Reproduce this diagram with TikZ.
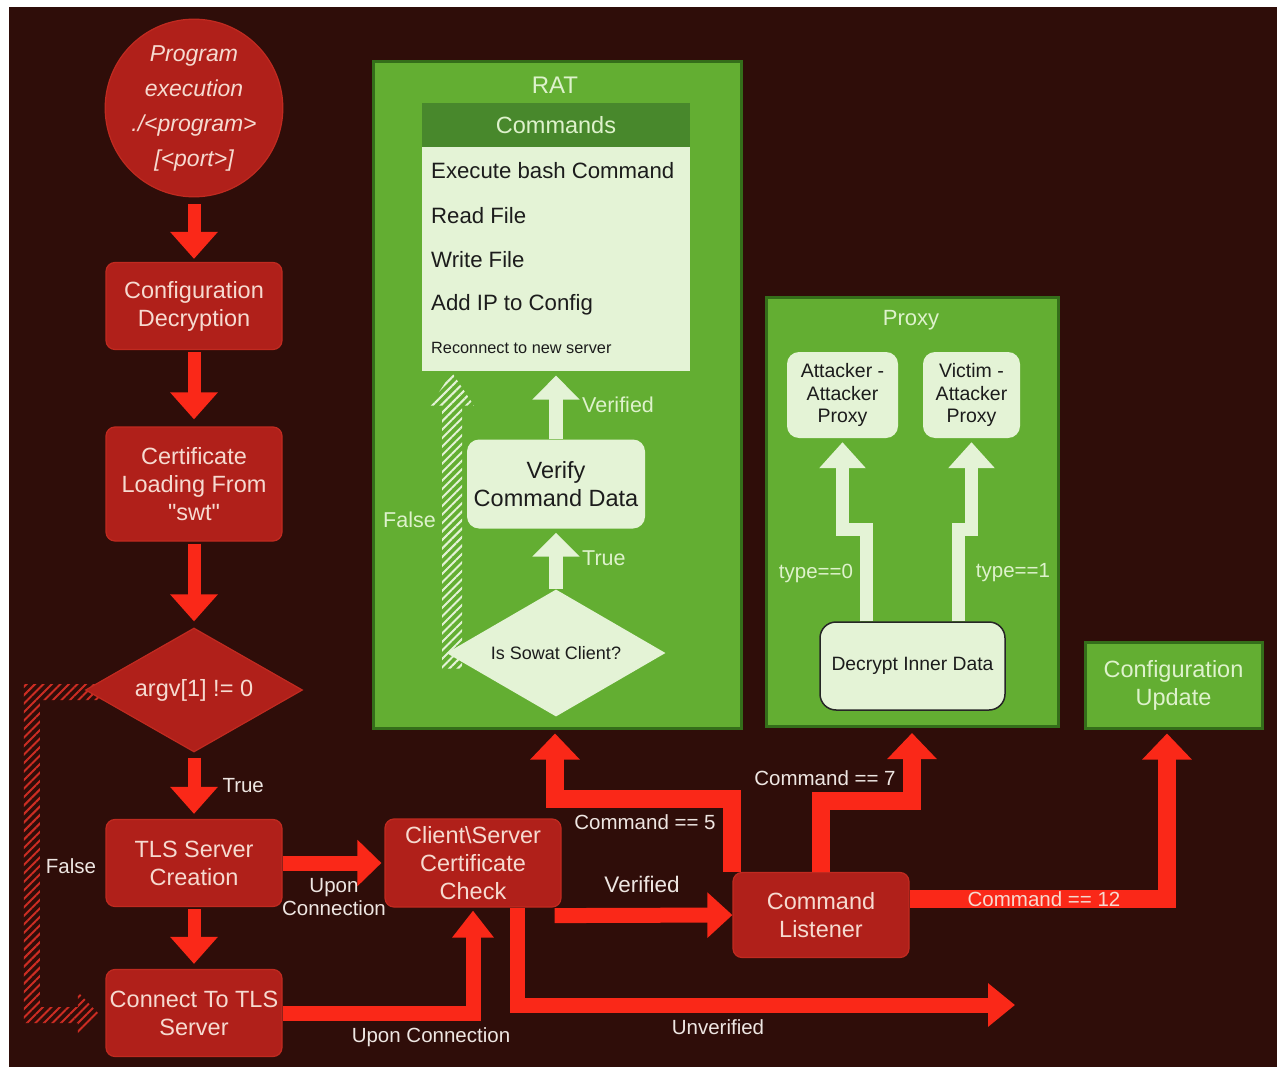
\documentclass[tikz,border=0pt]{standalone}
\usepackage{fontspec}
\setmainfont{Liberation Sans}
\usepackage{tikz}
\usetikzlibrary{positioning, arrows.meta, shapes.geometric, calc, backgrounds, patterns.meta}

\definecolor{bgbrown}{RGB}{47,13,9}
\definecolor{boxred}{RGB}{176,32,26}
\definecolor{boxredline}{RGB}{192,42,32}
\definecolor{boxtext}{RGB}{246,218,208}
\definecolor{arrowred}{RGB}{250,40,24}
\definecolor{panelgreen}{RGB}{99,174,50}
\definecolor{panelline}{RGB}{52,110,26}
\definecolor{palegreen}{RGB}{228,243,214}
\definecolor{headgreen}{RGB}{72,136,44}
\definecolor{greentext}{RGB}{222,242,204}
\definecolor{darktext}{RGB}{28,28,28}
\definecolor{labeltext}{RGB}{238,230,226}
\definecolor{hatchcol}{RGB}{205,45,35}

\begin{document}
\begin{tikzpicture}[
        x=1pt, y=-1pt,
        redbox/.style={rectangle, rounded corners=9pt, fill=boxred, draw=boxredline, line width=1.2pt, text=boxtext, align=center, inner sep=0pt, minimum width=176pt, minimum height=87pt, font=\fontsize{23.5}{28}\selectfont},
        reddiamond/.style={diamond, aspect=2, fill=boxred, draw=boxredline, line width=1.2pt, text=boxtext, inner sep=0pt, minimum width=217pt, minimum height=124pt, font=\fontsize{23.5}{28}\selectfont},
        panel/.style={rectangle, fill=panelgreen, draw=panelline, line width=3pt, inner sep=0pt},
        palebox/.style={rectangle, rounded corners=12pt, fill=palegreen, text=darktext, align=center, inner sep=0pt},
        cmditem/.style={anchor=west, text=darktext, inner sep=0pt, font=\fontsize{22.2}{26}\selectfont},
        bigarrow/.style={draw=arrowred, line width=13pt, -{Triangle[width=46pt,length=27pt]}},
        widearrow/.style={draw=arrowred, line width=18pt, -{Triangle[width=48pt,length=26pt]}},
        greenarrow/.style={draw=palegreen, line width=14pt, -{Triangle[width=46pt,length=24pt]}},
        lbl/.style={text=labeltext, align=center, inner sep=0pt, font=\fontsize{20.5}{23}\selectfont},
        glbl/.style={text=greentext, inner sep=0pt, font=\fontsize{21.5}{25}\selectfont},
        redhatch/.style={pattern={Lines[angle=45, distance=6pt, line width=2pt]}, pattern color=hatchcol},
        greenhatch/.style={pattern={Lines[angle=45, distance=6pt, line width=2pt]}, pattern color=palegreen},
    ]

    % === MAIN FLOW (left column) ===
    \node[circle, fill=boxred, draw=boxredline, line width=1.2pt, minimum size=164pt, inner sep=0pt, text=boxtext, align=center, font=\fontsize{23}{35}\selectfont\itshape] (prog) at (194,108) {Program\\execution\\./<program>\\{[}<port>{]}};
    \node[redbox] (cfgdec) at (194,306) {Configuration\\Decryption};
    \node[redbox, minimum height=114pt] (certload) at (194,484) {Certificate\\Loading From\\\textquotedbl swt\textquotedbl};
    \node[reddiamond] (argv) at (194,690) {argv[1] != 0};
    \node[redbox] (tlsserv) at (194,863) {TLS Server\\Creation};
    \node[redbox] (connect) at (194,1013) {Connect To TLS\\Server};

    \node[redbox, minimum height=88pt] (client) at (473,863) {Client\textbackslash Server\\Certificate\\Check};
    \node[redbox, minimum height=85pt] (listener) at (821,915) {Command\\Listener};

    % === RAT ===
    \node[panel, minimum width=368pt, minimum height=666pt] (rat) at (557,395) {};
    \node[glbl, font=\fontsize{24}{28}\selectfont] (rattitle) at (555,85) {RAT};
    \node[rectangle, fill=headgreen, minimum width=268pt, minimum height=44pt, inner sep=0pt, text=greentext, font=\fontsize{23.5}{28}\selectfont] (cmdhead) at (556,125) {Commands};
    \node[rectangle, fill=palegreen, minimum width=268pt, minimum height=224pt, inner sep=0pt, anchor=north] (cmdbody) at (cmdhead.south) {};
    \foreach \ypos/\txt [count=\i] in {171/Execute bash Command, 216/Read File, 260/Write File, 305/Add IP to Config}
        \node[cmditem] (cmd\i) at (431,\ypos) {\txt};
    \node[cmditem, font=\fontsize{16.3}{19}\selectfont] (cmd5) at (431,348) {Reconnect to new server};

    % False (hatched)
    \fill[greenhatch] ([xshift=-104pt, yshift=-1pt]cmdbody.south) -- ++(22,33) -- ++(-12,0) -- ++(0,263) -- ++(-20,0) -- ++(0,-263) -- ++(-12,0) -- cycle;

    \node[palebox, minimum width=178pt, minimum height=89pt, font=\fontsize{23.5}{28}\selectfont] (verify) at (556,484) {Verify\\Command Data};
    \node[diamond, aspect=2, fill=palegreen, text=darktext, minimum width=219pt, minimum height=127pt, inner sep=0pt, font=\fontsize{18}{22}\selectfont] (sowat) at (556,653) {Is Sowat Client?};

    \draw[greenarrow] (sowat.north) -- ([yshift=-4pt]verify.south);
    \draw[greenarrow] (verify.north) -- ([yshift=-4pt]cmdbody.south);
    \node[glbl, anchor=west] (ratTrue) at (582,558) {True};
    \node[glbl, anchor=west] (ratVerified) at (582,405) {Verified};
    \node[glbl, anchor=east] (ratFalse) at (436,520) {False};

    % === PROXY ===
    \node[panel, minimum width=292pt, minimum height=429pt] (proxy) at (912,512) {};
    \node[glbl, font=\fontsize{22}{26}\selectfont] (proxytitle) at (911,320) {Proxy};
    \node[palebox, minimum width=111pt, minimum height=86pt, font=\fontsize{19.5}{22.5}\selectfont] (attacker) at (842.5,395) {Attacker -\\Attacker\\Proxy};
    \node[palebox, minimum width=97pt, minimum height=86pt, font=\fontsize{19.5}{22.5}\selectfont] (victim) at (971.5,395) {Victim -\\Attacker\\Proxy};
    \node[palebox, rounded corners=16pt, draw=black!85, line width=1.5pt, minimum width=185pt, minimum height=88pt, font=\fontsize{19.3}{23}\selectfont] (decrypt) at (912.5,666) {Decrypt Inner Data};

    \draw[greenarrow, line width=13pt, -{Triangle[width=45pt,length=26pt]}] ([xshift=-46.5pt]decrypt.north) -- ++(0,-92) -| ([yshift=-4pt]attacker.south);
    \draw[greenarrow, line width=13pt, -{Triangle[width=45pt,length=26pt]}] ([xshift=45.5pt]decrypt.north) -- ++(0,-92) -| ([yshift=-4pt]victim.south);
    \node[glbl, font=\fontsize{20.5}{24}\selectfont] (type0) at (816,573) {type==0};
    \node[glbl, font=\fontsize{20.5}{24}\selectfont] (type1) at (1013,573) {type==1};

    % === CONFIG UPDATE ===
    \node[panel, minimum width=177pt, minimum height=86pt, text=greentext, align=center, font=\fontsize{23.5}{28}\selectfont] (cfgupd) at (1173.5,685) {Configuration\\Update};

    % Main flow arrows
    \draw[bigarrow] ([yshift=-7pt]prog.south) -- ([yshift=3pt]cfgdec.north);
    \draw[bigarrow] ([yshift=-2pt]cfgdec.south) -- ([yshift=7pt]certload.north);
    \draw[bigarrow] ([yshift=-2pt]certload.south) -- ([yshift=6pt]argv.north);
    \draw[bigarrow] ([yshift=-5pt]argv.south) -- ([yshift=5pt]tlsserv.north) node[lbl, midway, right=22pt] (trueLbl) {True};
    \draw[bigarrow] ([yshift=-2pt]tlsserv.south) -- ([yshift=5pt]connect.north);

    \draw[bigarrow, line width=15pt, -{Triangle[width=45pt,length=24pt]}] (tlsserv.east) -- ([xshift=-3pt]client.west);
    \node[lbl] (uponA) at (334,897) {Upon\\Connection};
    \draw[bigarrow, line width=15pt, -{Triangle[width=40pt,length=27pt]}] (connect.east) -| ([yshift=-3pt]client.south);
    \node[lbl] (uponB) at (431,1037) {Upon Connection};

    \coordinate (unvend) at (1015,1005);
    \draw[bigarrow, line width=15pt, -{Triangle[width=42pt,length=27pt]}] ([xshift=44pt]client.south) |- (unvend);
    \node[lbl] (unvLbl) at (718,1027) {Unverified};

    \draw[bigarrow, line width=15pt, -{Triangle[width=44pt,length=25pt]}] ([xshift=-7pt,yshift=-8pt]client.south east) -- (listener.west);
    \node[lbl, font=\fontsize{22.5}{26}\selectfont] (verLbl) at (642,884) {Verified};

    % Command listener dispatch
    \draw[widearrow] ([xshift=-89pt]listener.north) -- ++(0,-73) -| ([xshift=-2pt,yshift=-4pt]rat.south);
    \node[lbl] (cmd5Lbl) at (645,822) {Command == 5};
    \draw[widearrow] (listener.north) -- ++(0,-71) -| ([yshift=-5pt]proxy.south);
    \node[lbl] (cmd7Lbl) at (825,778) {Command == 7};
    \draw[widearrow] ([yshift=16pt]listener.east) -| ([xshift=-6.5pt,yshift=-4pt]cfgupd.south);
    \node[lbl, text=boxtext] (cmd12Lbl) at (1044,899) {Command == 12};

    \node[lbl] (falseLbl) at (71,866) {False};

    % Background + hatched False loop
    \begin{scope}[on background layer]
        \fill[white] (0,0) rectangle (1277,1067);
        \fill[bgbrown] (9,7) rectangle (1277,1067);
        \fill[redhatch] ([xshift=12pt,yshift=6pt]argv.west) -- ++(-73,0) -- ++(0,339) -- ++(54,0) -- ++(0,15) -- ++(22,-23) -- ++(-22,-23) -- ++(0,15) -- ++(-38,0) -- ++(0,-307) -- ++(60,0) -- cycle;
    \end{scope}

\end{tikzpicture}
\end{document}
